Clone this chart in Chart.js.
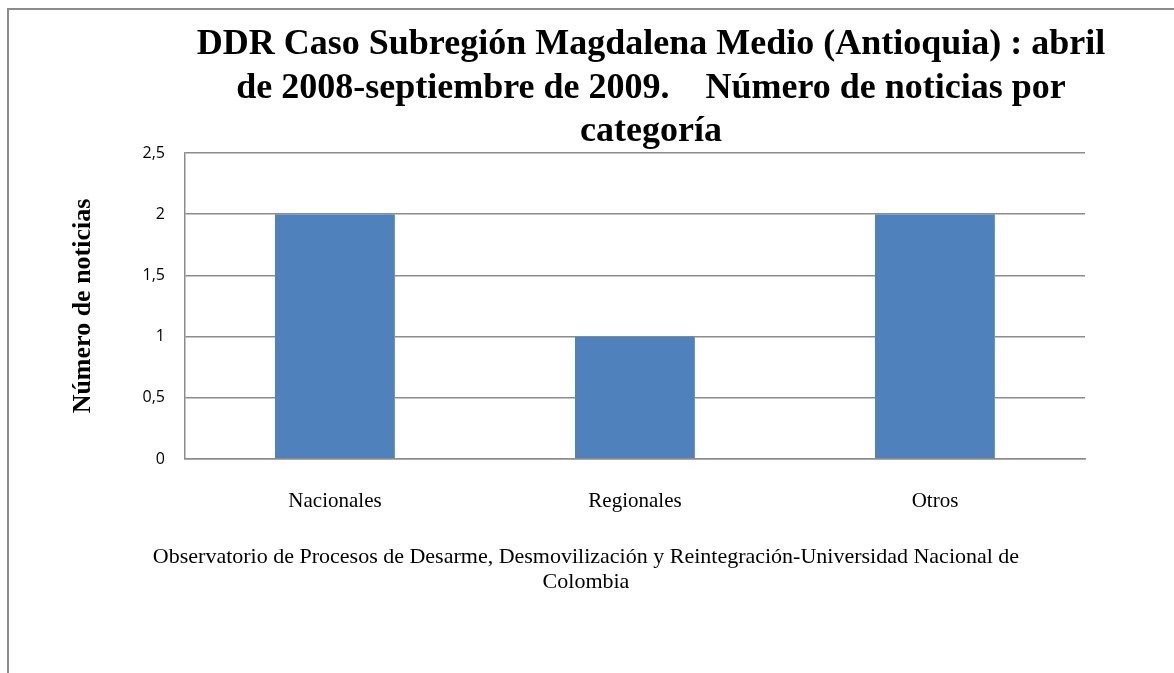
<!DOCTYPE html>
<html>
<head>
<meta charset="utf-8">
<script src="https://cdn.jsdelivr.net/npm/chart.js@4/dist/chart.umd.min.js"></script>
<style>
  html, body { margin: 0; padding: 0; background: #fff; overflow: hidden; }
  #wrap { position: relative; width: 1174px; height: 673px; }
  #frame { position: absolute; left: 7px; top: 8px; width: 1400px; height: 900px; border: 2px solid #8c8c8c; box-sizing: border-box; }
  canvas { position: absolute; left: 0; top: 0; }
</style>
</head>
<body>
<div id="wrap">
  <div id="frame"></div>
  <canvas id="myChart" width="1174" height="673"></canvas>
</div>
<script>
// datos del gráfico
const categorias = ['Nacionales', 'Regionales', 'Otros'];
const noticias = [2, 1, 2];
const ticksY = [0, 0.5, 1, 1.5, 2, 2.5];
const tituloLineas = [
  'DDR Caso Subregión Magdalena Medio (Antioquia) : abril',
  'de 2008-septiembre de 2009.    Número de noticias por',
  'categoría'
];
const pieLineas = [
  'Observatorio de Procesos de Desarme, Desmovilización y Reintegración-Universidad Nacional de',
  'Colombia'
];

const serif = '"Liberation Serif", "DejaVu Serif", serif';

// dibuja título y pie de página
const textosPlugin = {
  id: 'textos',
  afterDraw(chart) {
    const c = chart.ctx;
    const area = chart.chartArea;
    c.save();
    c.fillStyle = '#000';
    c.textAlign = 'center';
    c.textBaseline = 'middle';
    c.font = 'bold 36px ' + serif;
    const cx = (area.left + area.right) / 2 + 16;
    tituloLineas.forEach((t, i) => c.fillText(t, cx, 45 + i * 43.5));
    c.font = '22px ' + serif;
    pieLineas.forEach((t, i) => c.fillText(t, 586, 557 + i * 25));
    c.restore();
  }
};

const ctx = document.getElementById('myChart');
new Chart(ctx, {
  type: 'bar',
  data: {
    labels: categorias,
    datasets: [{
      label: 'Número de noticias',
      data: noticias,
      backgroundColor: '#4F81BD',
      borderColor: '#6a95c8',
      borderWidth: { right: 1 },
      categoryPercentage: 1,
      barPercentage: 0.4
    }]
  },
  options: {
    responsive: false,
    animation: false,
    layout: { padding: { left: 68, top: 153, right: 89, bottom: 0 } },
    plugins: {
      legend: { display: false },
      title: { display: false },
      tooltip: { enabled: false }
    },
    scales: {
      x: {
        grid: { display: false },
        border: { display: true, color: '#8c8c8c', width: 1.5 },
        ticks: { color: '#000', padding: 22, font: { family: serif, size: 21 } },
        afterFit(scale) { scale.height = 673 - 459; }
      },
      y: {
        min: 0,
        max: 2.5,
        afterBuildTicks(scale) { scale.ticks = ticksY.map(v => ({ value: v })); },
        grid: { color: '#8c8c8c', lineWidth: 1.5, drawTicks: false },
        border: { display: true, color: '#8c8c8c', width: 1.5 },
        ticks: {
          color: '#000',
          padding: 20,
          font: { family: '"Open Sans", "Liberation Sans", sans-serif', size: 16 },
          callback: v => String(v).replace('.', ',')
        },
        title: {
          display: true,
          text: 'Número de noticias',
          color: '#000',
          font: { family: serif, size: 26, weight: 'bold' },
          padding: 0
        },
        afterFit(scale) { scale.width = 185 - 68; }
      }
    }
  },
  plugins: [textosPlugin]
});
</script>
</body>
</html>
